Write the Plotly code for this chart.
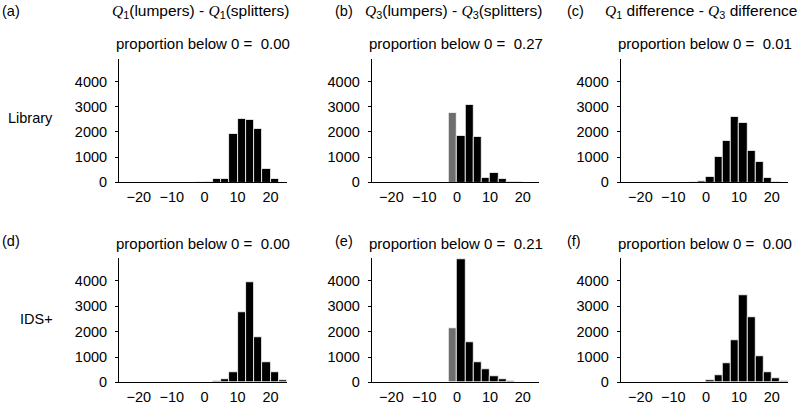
import plotly.graph_objects as go

# ---------------- data ----------------
bin_centers = [-3.75, -1.25, 1.25, 3.75, 6.25, 8.75, 11.25, 13.75, 16.25, 18.75, 21.25, 23.75]
bin_width = 2.5

counts_a = [0, 15, 40, 140, 150, 1945, 2540, 2500, 2140, 555, 130, 0]
counts_b = [0, 2750, 1855, 3070, 1790, 180, 360, 140, 40, 10, 0, 0]
counts_c = [20, 70, 230, 1000, 1640, 2606, 2350, 1250, 813, 167, 35, 0]
counts_d = [0, 0, 10, 60, 130, 390, 2770, 3960, 1770, 800, 390, 90]
counts_e = [0, 2130, 4880, 1575, 800, 540, 230, 115, 40, 10, 0, 0]
counts_f = [0, 15, 90, 285, 750, 1665, 3445, 2555, 1030, 385, 155, 50]

proportions = ["0.00", "0.27", "0.01", "0.00", "0.21", "0.00"]
panel_letters = ["(a)", "(b)", "(c)", "(d)", "(e)", "(f)"]
row_labels = ["Library", "IDS+"]
QS = "<span style=\"font-family:'Liberation Serif'\"><i>Q</i></span>"
col_titles = [
    QS + "<sub>1</sub>(lumpers) - " + QS + "<sub>1</sub>(splitters)",
    QS + "<sub>3</sub>(lumpers) - " + QS + "<sub>3</sub>(splitters)",
    QS + "<sub>1</sub> difference - " + QS + "<sub>3</sub> difference",
]
x_ticks = [-20, -10, 0, 10, 20]
y_ticks = [0, 1000, 2000, 3000, 4000]

all_counts = [counts_a, counts_b, counts_c, counts_d, counts_e, counts_f]

# ---------------- layout helpers ----------------
W, H = 800, 411
FONT = "Liberation Sans, Arial, sans-serif"
FS = 15
TFS = 14.5


def fx(px):
    return px / W


def fy(py):
    return 1 - py / H


col_left = [119, 371.7, 620.7]
col_right = [287, 539.3, 788.3]
row_top = [60, 263.3]
row_bottom = [186, 390]

fig = go.Figure()
layout = dict(
    width=W, height=H,
    margin=dict(l=0, r=0, t=0, b=0),
    paper_bgcolor="white", plot_bgcolor="white",
    showlegend=False,
    font=dict(family=FONT, size=FS, color="black"),
    bargap=0,
)

annotations = []
for i, counts in enumerate(all_counts):
    r, c = divmod(i, 3)
    n = i + 1
    xa = "x" if n == 1 else f"x{n}"
    ya = "y" if n == 1 else f"y{n}"
    colors = ["#6e6e6e" if bc < 0 else "black" for bc in bin_centers]
    fig.add_trace(go.Bar(
        x=bin_centers, y=counts, width=bin_width,
        marker=dict(color=colors, line=dict(color="white", width=0.8)),
        xaxis=xa, yaxis=ya, hoverinfo="x+y",
    ))
    layout[f"xaxis{'' if n == 1 else n}"] = dict(
        domain=[fx(col_left[c]), fx(col_right[c])],
        anchor=ya, range=[-26, 25],
        showline=True, linecolor="black", linewidth=1,
        showgrid=False, zeroline=False,
        tickvals=x_ticks, ticks="", ticklabelstandoff=1,
        tickfont=dict(size=TFS, family=FONT),
        fixedrange=True,
    )
    layout[f"yaxis{'' if n == 1 else n}"] = dict(
        domain=[fy(row_bottom[r]), fy(row_top[r])],
        anchor=xa, range=[0, 4900],
        showline=True, linecolor="black", linewidth=1,
        showgrid=False, zeroline=False,
        tickvals=y_ticks, ticks="outside", ticklen=3, tickcolor="black",
        ticklabelstandoff=5,
        tickfont=dict(size=TFS, family=FONT),
        fixedrange=True,
    )
    cx = (col_left[c] + col_right[c]) / 2
    annotations.append(dict(
        x=fx(cx), y=fy(44 if r == 0 else 248), xref="paper", yref="paper",
        text=f"proportion below 0 =  {proportions[i]}", showarrow=False,
        xanchor="center", yanchor="middle", font=dict(size=FS, family=FONT),
    ))

title_x = [201, 453, 799]
title_anchor = ["center", "center", "right"]
for c, t in enumerate(col_titles):
    annotations.append(dict(
        x=fx(title_x[c]), y=fy(12), xref="paper", yref="paper", text=t,
        showarrow=False, xanchor=title_anchor[c], yanchor="middle",
        font=dict(size=15.5, family=FONT),
    ))

letter_x = [0, 333, 565]
letter_y = [11, 246]
for i, lab in enumerate(panel_letters):
    r, c = divmod(i, 3)
    annotations.append(dict(
        x=fx(letter_x[c]), y=fy(letter_y[r]), xref="paper", yref="paper",
        text=lab, showarrow=False, xanchor="left", yanchor="middle",
        font=dict(size=TFS, family=FONT),
    ))

row_label_y = [120, 325]
for r, lab in enumerate(row_labels):
    annotations.append(dict(
        x=fx(55), y=fy(row_label_y[r]), xref="paper", yref="paper",
        text=lab, showarrow=False, xanchor="right", yanchor="middle",
        font=dict(size=TFS, family=FONT),
    ))

layout["annotations"] = annotations
fig.update_layout(**layout)
fig.write_html(
    "out.html",
    config={"displayModeBar": False},
    post_script="document.body.style.margin='0';document.body.style.overflow='hidden';",
)
